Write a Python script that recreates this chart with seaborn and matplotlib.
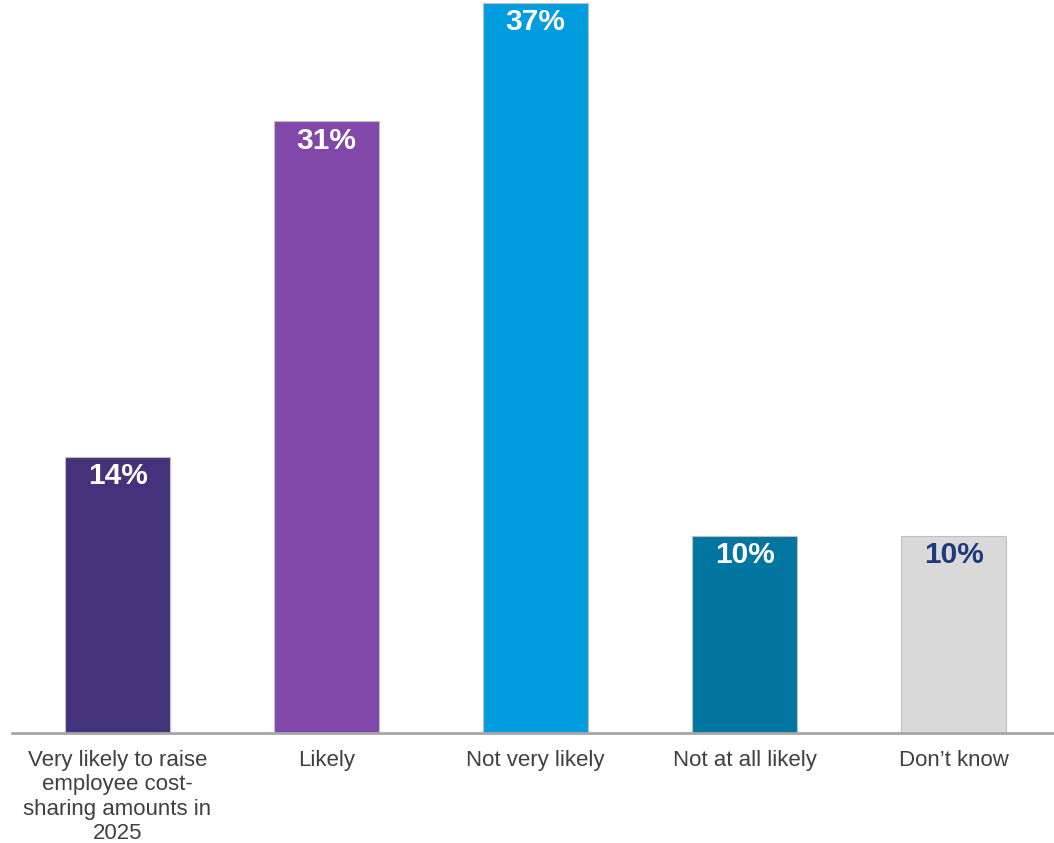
import pandas as pd
import matplotlib
matplotlib.use("Agg")
import matplotlib.pyplot as plt
import seaborn as sns

categories = ["Very likely to raise\nemployee cost-\nsharing amounts in\n2025",
              "Likely", "Not very likely", "Not at all likely", "Don\u2019t know"]
values = [14, 31, 37, 10, 10]
bar_colors = ["#44337A", "#8147A9", "#009DDE", "#0076A0", "#D9D9D9"]
label_colors = ["white", "white", "white", "white", "#1F3A7A"]

df = pd.DataFrame({"answer": categories, "pct": values})

sns.set_style("white")
plt.rcParams['font.family'] = ['Liberation Sans', 'DejaVu Sans']

fig = plt.figure(figsize=(10.54, 8.43), dpi=100)
ax = fig.add_axes([12 / 1054, 110 / 843, 1 - 12 / 1054, 733 / 843])

sns.barplot(data=df, x="answer", y="pct", hue="answer", palette=bar_colors,
            saturation=1, legend=False, width=0.502, edgecolor="#BFBFBF",
            linewidth=0.8, ax=ax)

for patch, val, col in zip(ax.patches, values, label_colors):
    ax.annotate(f"{val}%", (patch.get_x() + patch.get_width() / 2, patch.get_height()),
                xytext=(0, -14), textcoords="offset points", ha="center", va="center",
                fontsize=21.5, fontweight="bold", color=col)

ax.set_xlim(-0.505, 4.48)
ax.set_ylim(0, 37.15)
ax.set_xlabel("")
ax.set_ylabel("")
ax.set_yticks([])
for side in ["top", "right", "left"]:
    ax.spines[side].set_visible(False)
ax.spines["bottom"].set_color("#A6A6A6")
ax.spines["bottom"].set_linewidth(2)
ax.tick_params(axis="x", length=0, pad=12, labelsize=16, labelcolor="#404040")
for t in ax.get_xticklabels():
    t.set_linespacing(1.22)
    t.set_va("top")

fig.savefig("out.png", dpi=100)
